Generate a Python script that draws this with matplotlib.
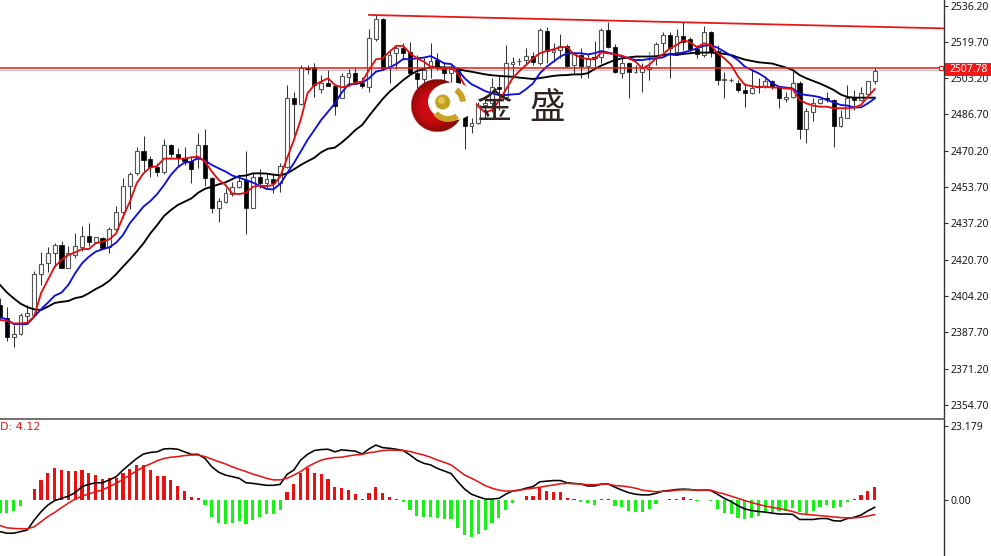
import numpy as np
import matplotlib
matplotlib.use("Agg")
import matplotlib.pyplot as plt
from matplotlib.patches import Circle, Wedge, Rectangle, Ellipse

open_ = [2400.1,2394.0,2385.7,2386.7,2395.2,2395.5,2414.0,2419.0,2423.6,2427.3,
2417.0,2422.8,2426.6,2431.6,2428.9,2430.4,2426.3,2434.5,2442.5,2454.2,
2459.9,2470.2,2466.3,2462.6,2460.7,2472.6,2468.7,2466.7,2465.7,2466.3,
2472.6,2457.6,2444.0,2447.0,2450.5,2453.9,2456.9,2444.3,2458.1,2455.4,
2457.2,2455.4,2463.0,2494.3,2491.3,2507.6,2508.1,2498.1,2500.8,2499.6,
2494.3,2503.9,2505.4,2500.8,2499.3,2520.8,2530.1,2507.6,2514.8,2516.7,
2514.9,2505.7,2502.8,2507.6,2511.4,2508.1,2505.4,2507.6,2487.9,2481.6,
2482.6,2491.0,2491.9,2499.2,2494.6,2509.6,2510.8,2511.6,2513.4,2509.9,
2524.6,2515.1,2516.0,2517.9,2509.2,2513.7,2508.9,2513.0,2513.0,2525.1,
2517.2,2505.4,2510.2,2506.0,2506.1,2507.3,2513.4,2519.0,2522.8,2514.9,
2522.5,2521.0,2516.3,2513.7,2524.3,2515.5,2502.3,2502.2,2501.0,2497.8,
2496.3,2499.8,2499.6,2501.9,2499.8,2493.7,2494.8,2500.8,2479.9,2488.0,
2491.7,2494.0,2493.2,2481.4,2485.2,2494.3,2493.2,2496.0,2501.9]
close = [2394.8,2385.7,2386.9,2395.5,2396.3,2414.2,2418.7,2423.6,2427.3,2417.0,
2423.6,2426.9,2431.6,2428.9,2430.8,2426.1,2434.8,2442.5,2454.2,2459.6,
2470.2,2466.0,2462.6,2460.7,2472.6,2468.7,2466.7,2465.7,2461.7,2472.6,
2457.6,2444.0,2447.3,2450.8,2453.9,2456.4,2444.3,2458.1,2455.4,2457.2,
2455.7,2463.4,2494.0,2491.3,2507.6,2507.2,2500.1,2500.8,2499.7,2490.5,
2504.2,2505.4,2501.6,2499.6,2521.6,2530.1,2507.6,2513.7,2516.7,2514.8,
2505.7,2502.8,2506.9,2511.1,2508.1,2505.7,2507.3,2487.9,2481.6,2483.0,
2491.0,2491.9,2499.2,2498.2,2510.1,2510.7,2511.0,2513.4,2510.4,2525.1,
2515.5,2516.0,2517.8,2508.9,2514.0,2508.9,2511.7,2512.2,2525.1,2517.2,
2505.8,2510.2,2506.1,2506.1,2507.6,2508.4,2518.6,2522.8,2516.7,2522.5,
2519.5,2516.3,2514.0,2524.3,2514.9,2502.3,2502.6,2502.5,2497.8,2496.6,
2498.9,2499.3,2501.9,2499.8,2494.0,2494.8,2500.8,2479.9,2488.2,2491.7,
2493.7,2493.6,2481.4,2485.7,2494.3,2493.2,2496.3,2502.0,2506.6]
high = [2403.1,2399.3,2391.0,2396.6,2400.1,2415.7,2424.3,2426.6,2428.4,2429.2,
2426.9,2433.0,2436.0,2437.2,2431.1,2431.1,2435.4,2445.1,2457.6,2460.7,
2472.0,2476.9,2467.8,2464.5,2475.4,2473.2,2471.3,2472.0,2467.5,2478.4,
2479.9,2458.1,2448.5,2453.1,2456.1,2457.6,2470.0,2459.9,2461.7,2459.9,
2459.9,2464.8,2500.0,2497.0,2509.2,2509.2,2509.9,2504.6,2506.9,2500.0,
2505.4,2507.2,2507.6,2503.9,2525.4,2531.9,2530.4,2516.0,2518.2,2519.0,
2519.5,2513.7,2512.2,2519.0,2514.8,2510.7,2509.2,2508.4,2487.9,2484.9,
2492.2,2494.6,2503.2,2504.2,2518.2,2512.9,2512.5,2516.7,2515.2,2525.8,
2526.6,2519.1,2523.1,2518.6,2514.9,2517.0,2514.0,2520.1,2525.8,2528.9,
2518.6,2512.2,2510.7,2509.2,2509.9,2514.9,2519.8,2524.0,2524.3,2525.5,
2528.5,2522.0,2518.2,2527.0,2524.6,2518.2,2506.1,2503.4,2502.3,2500.8,
2506.9,2503.1,2503.1,2502.3,2499.8,2497.0,2506.9,2501.9,2489.5,2494.3,
2494.0,2496.7,2493.7,2488.7,2500.1,2497.8,2499.3,2502.0,2507.9]
low = [2393.3,2383.9,2381.1,2386.4,2391.7,2394.8,2409.2,2415.2,2417.5,2417.0,
2416.7,2421.3,2424.8,2426.9,2428.4,2425.4,2423.9,2432.6,2439.8,2443.5,
2459.2,2460.7,2458.4,2458.7,2459.5,2467.2,2462.9,2463.7,2455.4,2462.2,
2454.1,2442.0,2437.9,2446.3,2449.6,2453.1,2432.3,2444.0,2453.1,2453.1,
2450.8,2451.6,2462.2,2477.3,2491.0,2505.0,2494.5,2496.3,2499.6,2486.4,
2494.0,2499.6,2501.1,2498.9,2497.0,2520.2,2506.9,2500.8,2507.2,2511.4,
2505.4,2498.5,2498.5,2503.1,2506.9,2501.6,2500.8,2487.6,2470.8,2478.1,
2482.2,2485.1,2487.8,2488.7,2494.2,2503.1,2509.2,2509.2,2509.2,2509.2,
2509.9,2510.5,2512.2,2508.4,2505.4,2503.4,2503.4,2508.4,2509.9,2516.7,
2505.4,2503.4,2494.0,2505.4,2496.7,2502.3,2509.2,2515.2,2503.1,2514.0,
2516.0,2515.5,2512.5,2512.9,2512.9,2500.1,2494.0,2501.6,2496.9,2490.2,
2495.8,2496.3,2498.6,2498.2,2489.5,2492.2,2494.3,2475.5,2473.6,2483.7,
2491.3,2492.2,2472.0,2481.1,2484.9,2488.7,2492.8,2495.5,2500.4]

ma_fast = [2393.3,2392.8,2391.7,2391.7,2392.0,2394.8,2405.4,2411.4,2417.5,2420.5,
2422.8,2424.0,2425.5,2425.5,2428.1,2428.9,2429.9,2432.6,2440.2,2447.0,
2455.4,2459.9,2462.6,2463.2,2466.6,2466.6,2466.6,2466.6,2467.2,2467.5,
2465.2,2460.7,2456.9,2454.6,2450.7,2450.5,2451.1,2453.8,2454.3,2454.1,
2454.6,2458.4,2466.7,2475.0,2484.2,2496.3,2500.1,2501.6,2503.1,2500.1,
2499.0,2499.6,2501.1,2501.6,2506.9,2511.7,2512.2,2515.2,2517.9,2517.8,
2514.5,2512.2,2510.7,2508.4,2507.6,2507.3,2507.9,2505.4,2499.8,2494.0,
2490.2,2487.6,2488.7,2492.8,2497.8,2503.1,2506.4,2509.2,2512.2,2514.5,
2515.5,2516.3,2517.2,2517.3,2514.0,2512.5,2511.9,2511.7,2514.9,2514.5,
2514.0,2513.4,2512.2,2510.7,2507.6,2509.2,2512.2,2514.0,2516.7,2518.2,
2520.4,2519.5,2517.2,2519.0,2518.2,2514.5,2512.2,2509.2,2503.9,2500.1,
2499.6,2499.0,2499.3,2498.9,2498.9,2498.5,2498.2,2493.3,2491.7,2490.7,
2490.2,2490.2,2489.5,2489.5,2489.5,2489.8,2491.0,2494.8,2498.2]
ma_mid = [2394.5,2393.5,2391.4,2391.4,2391.4,2394.8,2398.1,2401.1,2404.3,2405.7,
2409.2,2414.5,2419.0,2422.0,2424.3,2425.4,2426.3,2428.4,2431.9,2437.2,
2441.0,2444.8,2447.3,2450.5,2454.6,2459.2,2462.6,2464.8,2465.2,2467.0,
2465.7,2463.7,2462.2,2460.7,2458.9,2457.9,2456.9,2455.7,2454.3,2452.8,
2452.6,2455.1,2459.9,2464.5,2469.8,2475.1,2479.6,2484.2,2487.9,2491.7,
2496.6,2500.4,2500.5,2501.1,2503.1,2506.1,2506.9,2508.1,2509.6,2511.9,
2511.7,2512.2,2512.5,2513.2,2511.7,2509.9,2509.6,2506.9,2503.1,2500.4,
2498.9,2497.3,2496.3,2495.5,2495.5,2495.8,2496.0,2498.2,2500.8,2505.4,
2508.4,2510.7,2513.0,2514.5,2514.5,2514.5,2514.0,2514.5,2515.5,2514.8,
2514.0,2513.0,2512.2,2511.4,2511.4,2511.9,2512.2,2512.6,2514.2,2514.2,
2514.9,2515.7,2516.7,2517.9,2518.2,2517.0,2515.2,2513.4,2511.4,2508.4,
2506.9,2505.4,2503.5,2500.8,2499.3,2498.9,2498.5,2496.0,2495.5,2495.1,
2494.5,2493.2,2492.2,2491.0,2490.7,2489.9,2489.9,2491.7,2494.0]
ma_slow = [2409.2,2405.8,2403.1,2400.7,2399.1,2398.1,2397.8,2399.3,2401.0,2401.5,
2401.9,2403.2,2403.8,2405.4,2407.3,2408.9,2411.1,2414.1,2417.5,2420.8,
2424.3,2428.1,2432.6,2436.4,2440.5,2443.2,2445.5,2447.0,2448.5,2451.1,
2452.9,2453.8,2454.9,2455.8,2457.3,2458.7,2458.9,2459.9,2459.9,2459.8,
2459.3,2459.0,2459.9,2461.7,2463.7,2465.4,2467.0,2469.5,2471.1,2471.6,
2473.9,2476.6,2479.6,2481.9,2486.0,2489.9,2493.7,2497.0,2499.6,2502.3,
2504.6,2506.4,2507.3,2508.1,2508.3,2508.0,2508.0,2507.3,2506.6,2506.1,
2505.5,2504.9,2504.5,2504.2,2504.0,2503.8,2503.4,2503.1,2502.8,2503.2,
2503.7,2504.2,2504.5,2504.6,2504.9,2504.9,2505.4,2507.3,2508.9,2510.2,
2511.4,2512.2,2512.6,2513.0,2513.0,2513.0,2513.1,2513.7,2514.0,2513.7,
2514.2,2514.5,2514.8,2514.8,2514.8,2514.6,2514.2,2513.7,2512.6,2511.6,
2511.0,2510.4,2510.1,2509.8,2508.9,2508.0,2506.9,2504.6,2503.1,2501.9,
2500.7,2499.3,2497.8,2495.8,2494.6,2494.3,2494.3,2494.3,2494.3]

macd_hist = [-4.2,-4.2,-3.6,-1.8,0.1,3.4,6.3,8.4,10.1,9.4,
9.2,9.2,9.4,8.4,7.8,6.5,6.8,6.8,8.4,9.7,
11.0,11.0,9.4,7.6,7.5,6.3,4.5,2.8,0.8,0.7,
-1.6,-5.2,-7.1,-7.6,-7.3,-6.6,-7.6,-6.3,-5.4,-4.5,
-4.4,-3.1,2.4,5.0,8.4,9.9,8.4,8.0,6.6,4.2,
3.7,3.1,1.9,0.3,2.1,4.2,2.1,1.0,0.3,-0.5,
-3.1,-4.9,-5.2,-5.4,-5.5,-6.1,-6.1,-8.7,-11.0,-11.7,
-10.8,-9.4,-7.3,-5.7,-3.1,-1.0,0.1,1.3,1.3,3.7,
2.8,2.4,2.4,0.7,0.2,-0.7,-0.8,-1.6,0.2,0.2,
-1.8,-2.3,-3.3,-3.7,-3.7,-2.8,-1.4,0.1,0.2,0.2,
1.0,0.4,-0.3,0.1,-0.3,-2.7,-4.0,-4.5,-5.7,-6.1,
-5.7,-5.0,-4.2,-3.8,-3.4,-3.4,-2.4,-3.8,-4.3,-3.4,
-2.2,-1.6,-2.4,-2.2,-0.7,0.3,1.5,2.8,4.12]
macd_main = [-9.9,-10.4,-10.4,-9.9,-9.4,-6.3,-3.7,-1.6,-0.2,0.5,
1.2,2.3,4.2,4.9,5.4,5.4,6.3,7.3,9.4,11.2,
13.0,14.4,14.9,15.1,16.0,16.1,15.9,15.1,14.3,14.3,
13.0,10.4,8.7,7.8,7.3,6.8,5.4,5.2,4.9,4.6,
4.6,4.9,8.0,9.4,12.5,14.3,15.5,15.8,15.9,15.1,
15.7,15.5,15.3,14.4,16.0,17.2,16.4,16.2,15.9,15.5,
14.1,12.5,11.5,11.0,9.9,9.1,8.3,5.7,3.4,1.8,
1.0,0.3,0.3,0.5,1.8,2.8,3.1,3.7,4.2,5.7,
5.9,6.1,6.1,5.4,5.2,5.0,4.4,4.4,5.0,5.0,
4.0,3.1,2.3,1.8,1.6,1.6,2.1,2.8,3.0,3.3,
3.4,3.3,3.0,3.1,3.0,1.8,0.5,-0.5,-1.8,-2.8,
-3.3,-3.6,-3.8,-4.1,-4.4,-4.4,-4.5,-6.1,-6.1,-6.1,
-5.8,-5.8,-6.5,-6.6,-5.8,-5.4,-4.7,-3.4,-2.3]
macd_signal = [-8.0,-8.7,-8.9,-9.0,-9.0,-8.4,-6.8,-5.2,-3.9,-2.4,
-1.0,0.3,1.2,1.9,2.6,3.1,4.2,5.2,6.5,7.8,
9.1,10.4,11.3,12.3,13.0,13.4,13.6,13.9,14.1,14.1,
13.6,12.8,12.0,11.3,10.4,9.6,8.9,8.1,7.5,6.8,
6.3,6.3,6.8,7.8,8.9,10.4,11.5,12.5,13.0,13.3,
13.4,13.8,14.1,14.3,14.8,15.1,15.5,15.6,15.6,15.5,
15.2,14.6,14.1,13.4,12.5,11.8,11.0,9.4,7.8,6.8,
5.7,4.5,3.7,3.1,2.8,2.8,3.1,3.4,3.7,4.0,
4.4,4.7,5.1,5.2,5.1,5.0,4.8,4.8,4.9,5.0,
4.5,4.4,4.1,3.7,3.1,2.8,2.6,2.7,2.8,3.1,
3.2,3.2,3.1,3.1,3.1,2.4,1.9,1.2,0.5,-0.2,
-0.8,-1.4,-1.9,-2.3,-2.7,-3.1,-3.6,-4.3,-4.5,-4.7,
-4.9,-5.1,-5.3,-5.5,-5.6,-5.6,-5.4,-5.0,-4.6]

price_ticks = [2536.20,2519.70,2503.20,2486.70,2470.20,2453.70,2437.20,2420.70,2404.20,2387.70,2371.20,2354.70]
macd_ticks = [23.179,0.0]
macd_tick_labels = ["23.179","0.00"]
last_price = 2507.78
ask_price = 2506.9
trend_x = [54,138.07]
trend_y = [2531.9,2525.8]
macd_label = "D: 4.12"
brand = ["金","盛"]

W,H = 991,556
BAR = 6.83
XR = 943/BAR
FONT = ['Noto Sans','DejaVu Sans']
fig = plt.figure(figsize=(W/100,H/100),dpi=100,facecolor='white')
ax1 = fig.add_axes([0,1-418.5/H,943.5/W,418.5/H])
ax2 = fig.add_axes([0,0,943.5/W,(H-418.5)/H])
xs = np.arange(len(close))
o,c,hi,lo = map(np.array,(open_,close,high,low))

up = c>=o
ax1.vlines(xs,lo,hi,color='#333333',lw=0.75,zorder=2)
ax1.bar(xs[up],np.abs(c-o)[up],bottom=o[up],width=0.56,facecolor='white',edgecolor='#555555',lw=0.8,zorder=3)
ax1.bar(xs[~up],np.abs(c-o)[~up],bottom=c[~up],width=0.6,facecolor='black',edgecolor='black',lw=0.5,zorder=3)
ax1.plot([95,95],[high[95],2509.5],color='#30d0c8',lw=1.0,zorder=4)

ax1.axhline(ask_price,color='#c8c8c8',lw=1.0,zorder=1)
ax1.plot(xs,ma_slow,color='black',lw=1.35,zorder=5)
ax1.plot(xs,ma_mid,color='#1010d8',lw=1.35,zorder=6)
ax1.plot(xs,ma_fast,color='#e01010',lw=1.35,zorder=7)
ax1.axhline(last_price,color='#e81818',lw=1.1,zorder=8)
ax1.plot(trend_x,trend_y,color='#e81818',lw=1.3,zorder=8)
ax1.plot([XR-0.4],[last_price],marker='s',ms=3.5,mfc='white',mec='#e81818',mew=0.8,zorder=9,clip_on=False)

ax1.set_xlim(0,XR)
ax1.set_ylim(2538.7-418.5/2.2,2538.7)
ax1.set_xticks([])
ax1.set_yticks(price_ticks)
ax1.set_yticklabels([f"{t:.2f}" for t in price_ticks])

colors = ['#e81010' if v>=0 else '#18f018' for v in macd_hist]
ax2.bar(xs,macd_hist,width=0.45,color=colors,zorder=2)
ax2.plot(xs,macd_main,color='black',lw=1.15,zorder=3)
ax2.plot(xs,macd_signal,color='#e01818',lw=1.15,zorder=4)
ax2.set_xlim(0,XR)
ax2.set_ylim(-(H-500)*0.3132,(500-418.5)*0.3132)
ax2.set_xticks([])
ax2.set_yticks(macd_ticks)
ax2.set_yticklabels(macd_tick_labels)
ax2.text(0.03,22.9,macd_label,color='#e81818',fontsize=8,family=['DejaVu Sans'],va='center',ha='left')

for ax in (ax1,ax2):
    ax.yaxis.tick_right()
    ax.tick_params(axis='y',length=3,width=0.8,color='#333333',labelsize=7.5,labelcolor='#1a1a1a',pad=2.2)
    for s in ('left','bottom','top'):
        ax.spines[s].set_visible(False)
    ax.spines['right'].set_color('#333333')
    ax.spines['right'].set_linewidth(1.0)
    for l in ax.get_yticklabels():
        l.set_family(FONT)
ax2.spines['top'].set_visible(True)
ax2.spines['top'].set_color('#666666')
ax2.spines['top'].set_linewidth(1.3)

# overlay in picture pixels: current-price tag and watermark
ov = fig.add_axes([0,0,1,1],zorder=10)
ov.set_xlim(0,W); ov.set_ylim(H,0); ov.axis('off'); ov.patch.set_alpha(0)
ov.add_patch(Rectangle((945,63),46,12.5,facecolor='#f01818',edgecolor='none'))
ov.text(949.5,69,f"{last_price:.2f}",color='white',fontsize=7.5,family=FONT,va='center',ha='left')

# logo: radial shaded red disc, white bite, gold parts
gy,gx = np.mgrid[-1:1:160j,-1:1:160j]
r = np.hypot(gx+0.15,gy-0.05)
img = np.zeros((160,160,4))
img[...,0] = np.clip(0.80-0.55*np.maximum(r-0.5,0),0.35,1)
img[...,1] = 0.04
img[...,2] = np.clip(0.10-0.08*r,0,1)
img[...,3] = (np.hypot(gx,gy)<=1).astype(float)
ov.imshow(img,extent=(410.5,463.5,132.5,79.5),zorder=1,interpolation='bilinear')
ov.set_xlim(0,W); ov.set_ylim(H,0); ov.set_aspect('auto')
ov.add_patch(Ellipse((452,101.5),48,38,facecolor='white',edgecolor='none',zorder=2))
ov.add_patch(Wedge((448,103),19,55,140,width=6,facecolor='#c9a227',edgecolor='none',zorder=3))
ov.add_patch(Wedge((447,103),19,-55,-5,width=6,facecolor='#c9a227',edgecolor='none',zorder=3))
ov.add_patch(Circle((442.7,102),7.5,facecolor='#c2a020',edgecolor='none',zorder=3))
ov.add_patch(Circle((441.5,100.5),3.5,facecolor='#e0c450',edgecolor='none',zorder=3))
cjk = ['Noto Sans CJK SC','DejaVu Sans']
ov.text(495,108,brand[0],fontsize=25.5,color='#2e2320',family=cjk,ha='center',va='center',zorder=4)
ov.text(547.5,108,brand[1],fontsize=25.5,color='#2e2320',family=cjk,ha='center',va='center',zorder=4)

fig.savefig('out.png',dpi=100)
